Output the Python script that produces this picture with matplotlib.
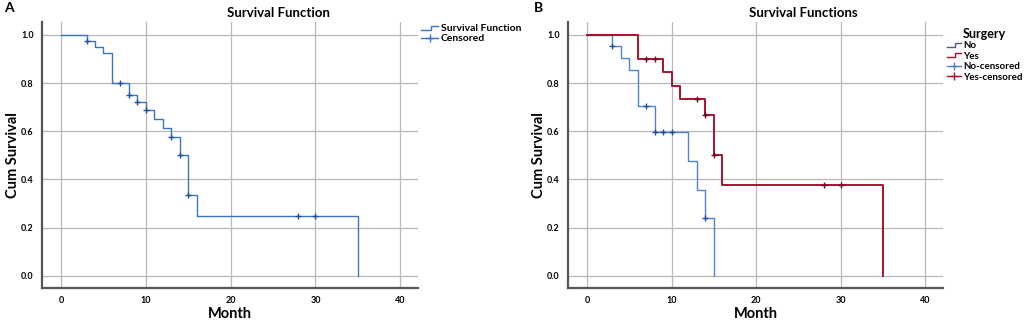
import matplotlib
matplotlib.use("Agg")
import matplotlib.pyplot as plt
from matplotlib.lines import Line2D
from matplotlib.legend_handler import HandlerBase

# ---------------- data ----------------
# Panel A: overall survival
a_times = [0, 3, 4, 5, 6, 8, 9, 10, 11, 12, 13, 14, 15, 16, 35]
a_surv = [1.0, 0.975, 0.95, 0.925, 0.80, 0.749, 0.720, 0.687, 0.649, 0.612, 0.576, 0.50, 0.334, 0.25, 0.0]
a_cens_t = [3, 7, 8, 9, 10, 13, 14, 15, 28, 30]
a_cens_s = [0.975, 0.80, 0.749, 0.720, 0.687, 0.576, 0.50, 0.334, 0.25, 0.25]

# Panel B: by surgery
no_times = [0, 3, 4, 5, 6, 8, 12, 13, 14, 15]
no_surv = [1.0, 0.955, 0.905, 0.854, 0.703, 0.597, 0.477, 0.358, 0.239, 0.0]
no_cens_t = [3, 7, 8, 9, 10, 14]
no_cens_s = [0.955, 0.703, 0.597, 0.597, 0.597, 0.239]

yes_times = [0, 6, 9, 10, 11, 14, 15, 16, 35]
yes_surv = [1.0, 0.90, 0.844, 0.788, 0.732, 0.669, 0.502, 0.378, 0.0]
yes_cens_t = [7, 8, 13, 14, 15, 28, 30]
yes_cens_s = [0.90, 0.90, 0.732, 0.669, 0.502, 0.378, 0.378]

x_ticks = [0, 10, 20, 30, 40]
y_ticks = [0.0, 0.2, 0.4, 0.6, 0.8, 1.0]

BLUE_A = "#3a74c6"
BLUE_B = "#4f83cf"
RED_B = "#a8122e"
FONT = "Lato"

W, H = 1026, 322
fig = plt.figure(figsize=(W / 100, H / 100), dpi=100)


class StepHandler(HandlerBase):
    def create_artists(self, legend, orig_handle, xdescent, ydescent,
                       width, height, fontsize, trans):
        x0 = -xdescent
        xm = x0 + width * 0.6
        x1 = x0 + width
        y0 = -ydescent + height * 0.25
        y1 = -ydescent + height * 0.8
        ln = Line2D([x0, xm, xm, x1], [y0, y0, y1, y1],
                    color=orig_handle.get_color(), lw=1.0, transform=trans)
        return [ln]


def style_axes(ax):
    ax.set_xlim(-2.25, 42.1)
    ax.set_ylim(-0.05, 1.053)
    ax.set_xticks(x_ticks)
    ax.set_yticks(y_ticks)
    ax.set_yticklabels([f"{v:.1f}" for v in y_ticks])
    ax.tick_params(length=0, labelsize=6.5, pad=6)
    for lab in ax.get_xticklabels() + ax.get_yticklabels():
        lab.set_fontfamily(FONT)
        lab.set_fontweight("bold")
    ax.grid(True, color="#b8b8b8", lw=0.9)
    ax.set_axisbelow(True)
    for s in ["top", "right"]:
        ax.spines[s].set_visible(False)
    for s in ["left", "bottom"]:
        ax.spines[s].set_color("#555555")
        ax.spines[s].set_linewidth(1.6)


def axis_labels(xc, ylab_x):
    fig.text(xc / W, 1 - 314 / H, "Month", ha="center", va="center",
             fontsize=10.5, fontweight="bold", family=FONT)
    fig.text(ylab_x / W, 1 - 155 / H, "Cum Survival", ha="center", va="center",
             rotation=90, fontsize=10.5, fontweight="bold", family=FONT)


# ---------------- Panel A ----------------
axA = fig.add_axes([42 / W, 1 - 288 / H, (418 - 42) / W, (288 - 22) / H])
style_axes(axA)
axis_labels(230, 13)
lA, = axA.step(a_times, a_surv, where="post", color=BLUE_A, lw=1.0)
cA, = axA.plot(a_cens_t, a_cens_s, ls="none", marker="+", ms=5, mew=1.0, color="#1f4fa0")
legA = fig.legend([lA, Line2D([], [], color=BLUE_A, marker="+", ms=6, lw=1.0)],
                  ["Survival Function", "Censored"],
                  loc="upper left", bbox_to_anchor=(417 / W, 1 - 20 / H),
                  frameon=False, handlelength=1.6, handletextpad=0.3,
                  labelspacing=0.05, borderaxespad=0,
                  prop={"family": FONT, "weight": "bold", "size": 7.5},
                  handler_map={lA: StepHandler()})
fig.text(278 / W, 1 - 13 / H, "Survival Function", ha="center", va="center",
         fontsize=9.5, fontweight="bold", family=FONT)
fig.text(4 / W, 1 - 8 / H, "A", ha="left", va="center", fontsize=10, fontweight="bold", family=FONT)

# ---------------- Panel B ----------------
axB = fig.add_axes([568 / W, 1 - 288 / H, (943 - 568) / W, (288 - 22) / H])
style_axes(axB)
axis_labels(756, 539)
lNo, = axB.step(no_times, no_surv, where="post", color=BLUE_B, lw=1.0)
lYes, = axB.step(yes_times, yes_surv, where="post", color=RED_B, lw=1.4)
axB.plot(no_cens_t, no_cens_s, ls="none", marker="+", ms=5, mew=1.0, color="#1f4fa0")
axB.plot(yes_cens_t, yes_cens_s, ls="none", marker="+", ms=5, mew=1.0, color="#6a0a1c")
hNo = Line2D([], [], color="#4a5a80", lw=1.0)
hYes = Line2D([], [], color=RED_B, lw=1.2)
hNoC = Line2D([], [], color=BLUE_B, marker="+", ms=6, lw=1.0)
hYesC = Line2D([], [], color=RED_B, marker="+", ms=6, lw=1.0)
legB = fig.legend([hNo, hYes, hNoC, hYesC],
                  ["No", "Yes", "No-censored", "Yes-censored"],
                  title="Surgery", loc="upper left",
                  bbox_to_anchor=(943 / W, 1 - 24 / H),
                  frameon=False, handlelength=1.4, handletextpad=0.25,
                  labelspacing=0.15, borderaxespad=0,
                  prop={"family": FONT, "weight": "bold", "size": 7},
                  title_fontproperties={"family": FONT, "weight": "bold", "size": 9},
                  handler_map={hNo: StepHandler(), hYes: StepHandler()})
fig.text(803 / W, 1 - 13 / H, "Survival Functions", ha="center", va="center",
         fontsize=9.5, fontweight="bold", family=FONT)
fig.text(534 / W, 1 - 8 / H, "B", ha="left", va="center", fontsize=10, fontweight="bold", family=FONT)

fig.savefig("out.png", dpi=100)
